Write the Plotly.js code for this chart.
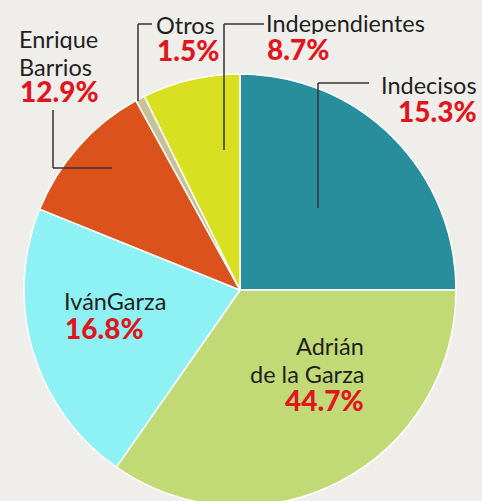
<!DOCTYPE html>
<html><head><meta charset="utf-8">
<script src="https://cdn.plot.ly/plotly-3.0.1.min.js"></script>
<style>html,body{margin:0;padding:0;overflow:hidden;background:#EFEEEB}#c{width:482px;height:520px}</style>
</head><body><div id="c"></div>
<script>
const categories = ["Indecisos", "Adrián de la Garza", "IvánGarza", "Enrique Barrios", "Otros", "Independientes"];
const sliceShares = [25.0, 34.7, 21.4, 10.9, 0.7, 7.3];
// Printed percentages on the chart
const printedLabels = ["15.3%", "44.7%", "16.8%", "12.9%", "1.5%", "8.7%"];
const nameLines = [["Indecisos"], ["Adrián", "de la Garza"], ["IvánGarza"], ["Enrique", "Barrios"], ["Otros"], ["Independientes"]];
const colors = ["#288E9B", "#C1DA76", "#8EF2F5", "#DC521D", "#C6C199", "#D9E021"];

const W = 482, H = 520;
const px = x => x / W, py = y => 1 - y / H;
const FONT = "Lato, 'Open Sans', sans-serif";
const dark = "#231F20", red = "#E0161E";

// label placement (pixel positions of text blocks) per category
const place = [
  {x: 479, anchor: "right", ys: [85], pctY: 111},
  {x: 366, anchor: "right", ys: [346, 374], pctY: 400},
  {x: 62, anchor: "left", ys: [301], pctY: 328},
  {x: 17, anchor: "left", ys: [39.5, 67], pctY: 91},
  {x: 154, anchor: "left", ys: [25], pctY: 50},
  {x: 264, anchor: "left", ys: [23.5], pctY: 49}
];

const annotations = [];
categories.forEach((c, i) => {
  const p = place[i];
  nameLines[i].forEach((t, j) => annotations.push({
    xref: "paper", yref: "paper", x: px(p.x), y: py(p.ys[j]), xanchor: p.anchor, yanchor: "middle",
    height: 22, valign: "middle",
    text: t, showarrow: false, font: {family: FONT, size: 23.5, color: dark}
  }));
  annotations.push({
    xref: "paper", yref: "paper", x: px(p.x + (p.anchor === "left" ? 1 : 0)), y: py(p.pctY), xanchor: p.anchor, yanchor: "middle",
    height: 22, valign: "middle",
    text: printedLabels[i], showarrow: false, font: {family: FONT, size: 28, weight: 900, color: red}
  });
});

// leader lines (pixel paths)
const leaders = [
  [[318, 208], [318, 83], [369, 83]],
  [[53, 110], [53, 168], [112, 168]],
  [[138, 101], [138, 24], [152, 24]],
  [[224, 150], [224, 24], [264, 24]]
];
const shapes = [];
leaders.forEach(pts => {
  for (let k = 0; k < pts.length - 1; k++) {
    shapes.push({type: "line", xref: "paper", yref: "paper",
      x0: px(pts[k][0]), y0: py(pts[k][1]), x1: px(pts[k + 1][0]), y1: py(pts[k + 1][1]),
      line: {color: "#333333", width: 1.5}});
  }
});

const trace = {
  type: "pie", labels: categories, values: sliceShares, sort: false, direction: "clockwise", rotation: 0,
  marker: {colors: colors, line: {color: "#FFFFFF", width: 1.5}},
  textinfo: "none", hoverinfo: "label", showlegend: false,
  domain: {x: [px(24), px(456)], y: [py(506), py(74)]}
};

Plotly.newPlot("c", [trace], {
  width: W, height: H, margin: {l: 0, r: 0, t: 0, b: 0},
  paper_bgcolor: "#EFEEEB", plot_bgcolor: "#EFEEEB",
  annotations: annotations, shapes: shapes
}, {displayModeBar: false, staticPlot: true});
</script></body></html>
